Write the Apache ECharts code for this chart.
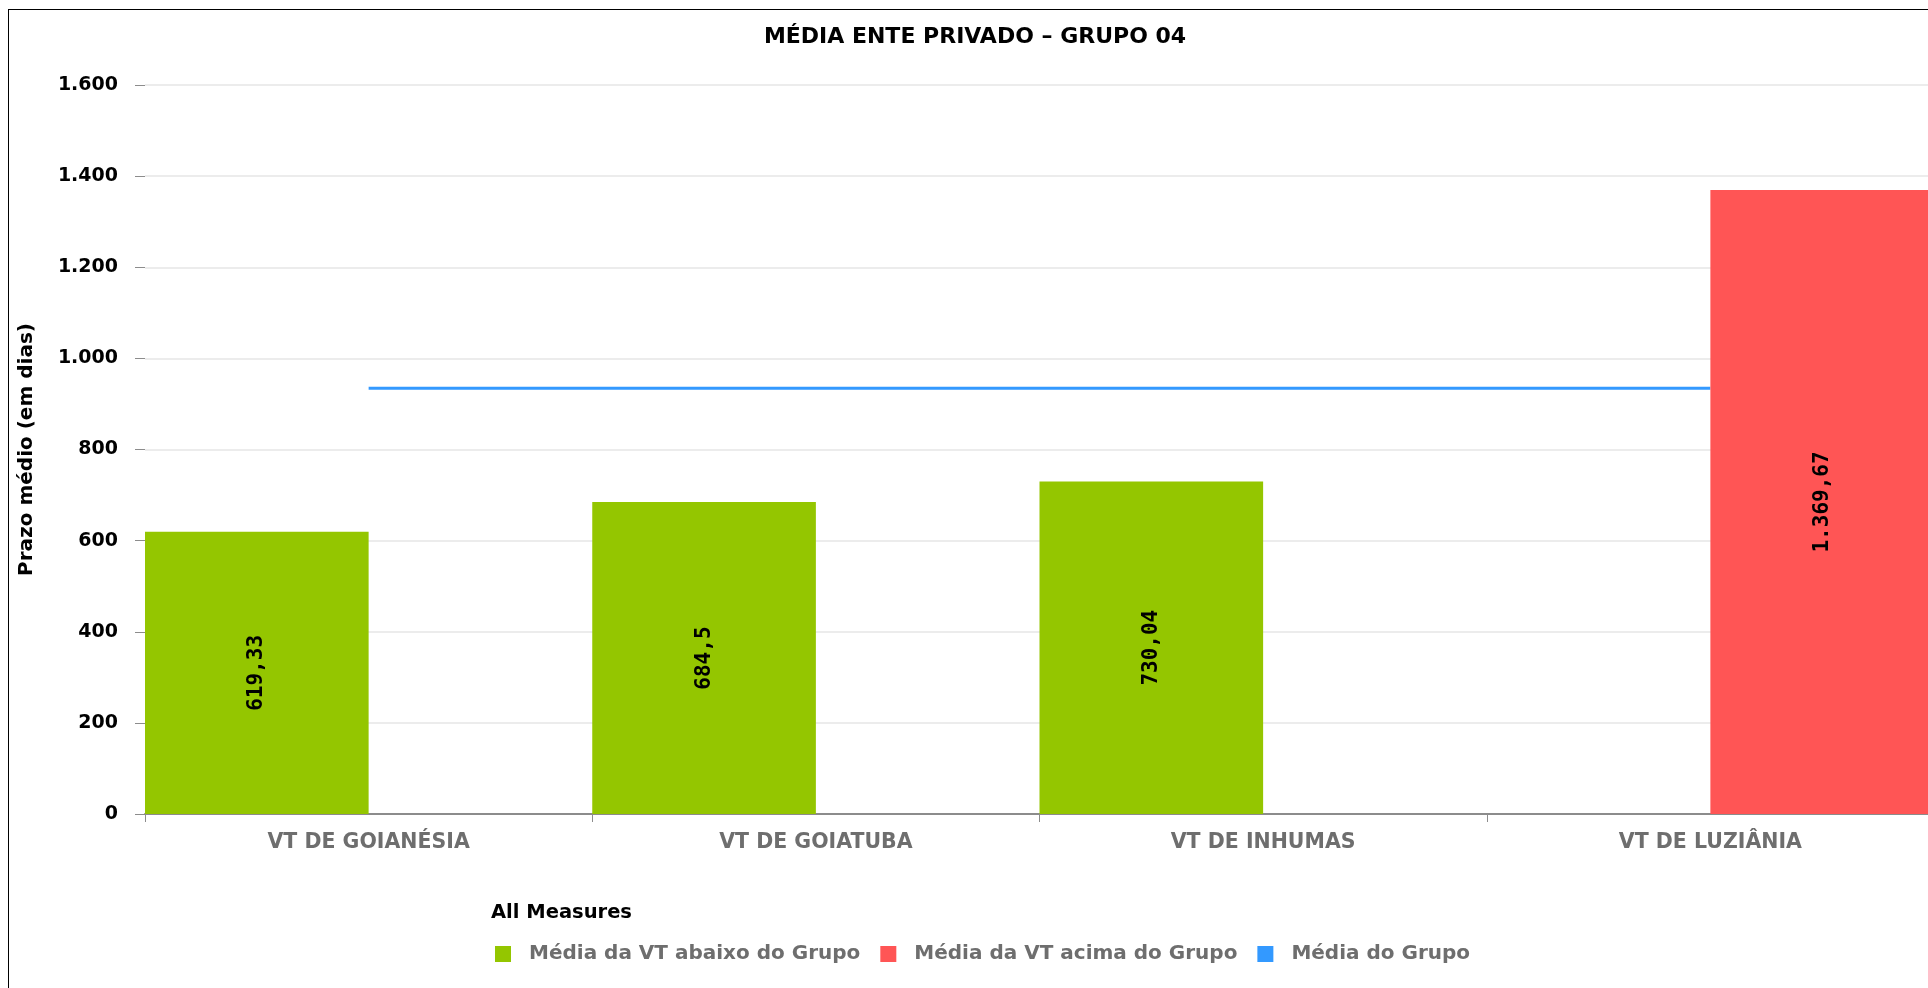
<!DOCTYPE html>
<html>
<head>
<meta charset="utf-8">
<script src="https://cdn.jsdelivr.net/npm/echarts@6/dist/echarts.min.js"></script>
<style>
  html, body { margin: 0; padding: 0; background: #ffffff; overflow: hidden; }
  #media_grupo {
    position: absolute;
    left: 8px;
    top: 9px;
    width: 1932px;
    height: 1000px;
    border-left: 1px solid #000000;
    border-top: 1px solid #000000;
  }
</style>
</head>
<body>
<div id="media_grupo"></div>
<script>
// dados
const categorias = ['VT DE GOIANÉSIA', 'VT DE GOIATUBA', 'VT DE INHUMAS', 'VT DE LUZIÂNIA']
const abaixoGrupo = [619.33, 684.5, 730.04, '-']
const acimaGrupo = ['-', '-', '-', 1369.67]
const mediaGrupo = [934.4, 934.4, 934.4, 934.4]
const nomesSeries = ['Média da VT abaixo do Grupo', 'Média da VT acima do Grupo', 'Média do Grupo']

// formato pt-BR: 1.369,67
function formatoBR (v, decimais) {
  const partes = String(v).split('.')
  const inteiro = partes[0].replace(/\B(?=(\d{3})+(?!\d))/g, '.')
  return decimais && partes[1] ? inteiro + ',' + partes[1] : inteiro
}

const fonte = 'DejaVu Sans'
const rotuloBarra = {
  show: true,
  position: 'inside',
  rotate: 90,
  color: '#000000',
  fontFamily: 'DejaVu Sans Mono',
  fontWeight: 'bold',
  fontSize: 21,
  formatter: p => formatoBR(p.value, true)
}

const chart = echarts.init(document.getElementById('media_grupo'))
chart.setOption({
  animation: false,
  color: ['#94c600', '#ff5555', '#3399ff'],
  title: {
    text: 'MÉDIA ENTE PRIVADO – GRUPO 04',
    left: 'center',
    top: 16,
    padding: 0,
    textStyle: { fontFamily: fonte, fontWeight: 'bold', fontSize: 22, color: '#000000' }
  },
  graphic: [{
    type: 'text',
    left: 482,
    top: 893,
    style: { text: 'All Measures', font: 'bold 19.5px "DejaVu Sans"', fill: '#000000' }
  }],
  legend: {
    left: 486,
    top: 934,
    padding: 0,
    icon: 'rect',
    itemWidth: 16,
    itemHeight: 16,
    itemGap: 20,
    data: nomesSeries,
    textStyle: { fontFamily: fonte, fontWeight: 'bold', fontSize: 20, color: '#6e6e6e', padding: [0, 0, 0, 13] }
  },
  grid: {
    left: 136,
    right: 7,
    top: 75,
    bottom: 196
  },
  xAxis: {
    type: 'category',
    data: categorias,
    axisLine: { lineStyle: { color: '#8c8c8c', width: 2 } },
    axisTick: { show: true, length: 8, lineStyle: { color: '#8c8c8c' } },
    axisLabel: {
      interval: 0,
      margin: 18,
      fontFamily: fonte,
      fontWeight: 'bold',
      fontSize: 20.5,
      color: '#6e6e6e'
    }
  },
  yAxis: {
    type: 'value',
    min: 0,
    max: 1600,
    interval: 200,
    name: 'Prazo médio (em dias)',
    nameLocation: 'middle',
    nameGap: 108,
    nameTextStyle: { fontFamily: fonte, fontWeight: 'bold', fontSize: 20, color: '#000000' },
    axisLine: { show: false },
    axisTick: { show: true, length: 10, lineStyle: { color: '#8c8c8c' } },
    axisLabel: {
      margin: 27,
      fontFamily: fonte,
      fontWeight: 'bold',
      fontSize: 19,
      color: '#000000',
      formatter: v => formatoBR(v, false)
    },
    splitLine: { lineStyle: { color: '#e6e6e6', width: 1.5 } }
  },
  series: [
    {
      name: nomesSeries[0],
      type: 'bar',
      data: abaixoGrupo,
      barGap: '0%',
      barCategoryGap: '0%',
      label: rotuloBarra
    },
    {
      name: nomesSeries[1],
      type: 'bar',
      data: acimaGrupo,
      barGap: '0%',
      barCategoryGap: '0%',
      label: rotuloBarra
    },
    {
      name: nomesSeries[2],
      type: 'line',
      data: mediaGrupo,
      symbol: 'none',
      lineStyle: { width: 3, color: '#3399ff' },
      z: 1
    }
  ]
})
</script>
</body>
</html>
